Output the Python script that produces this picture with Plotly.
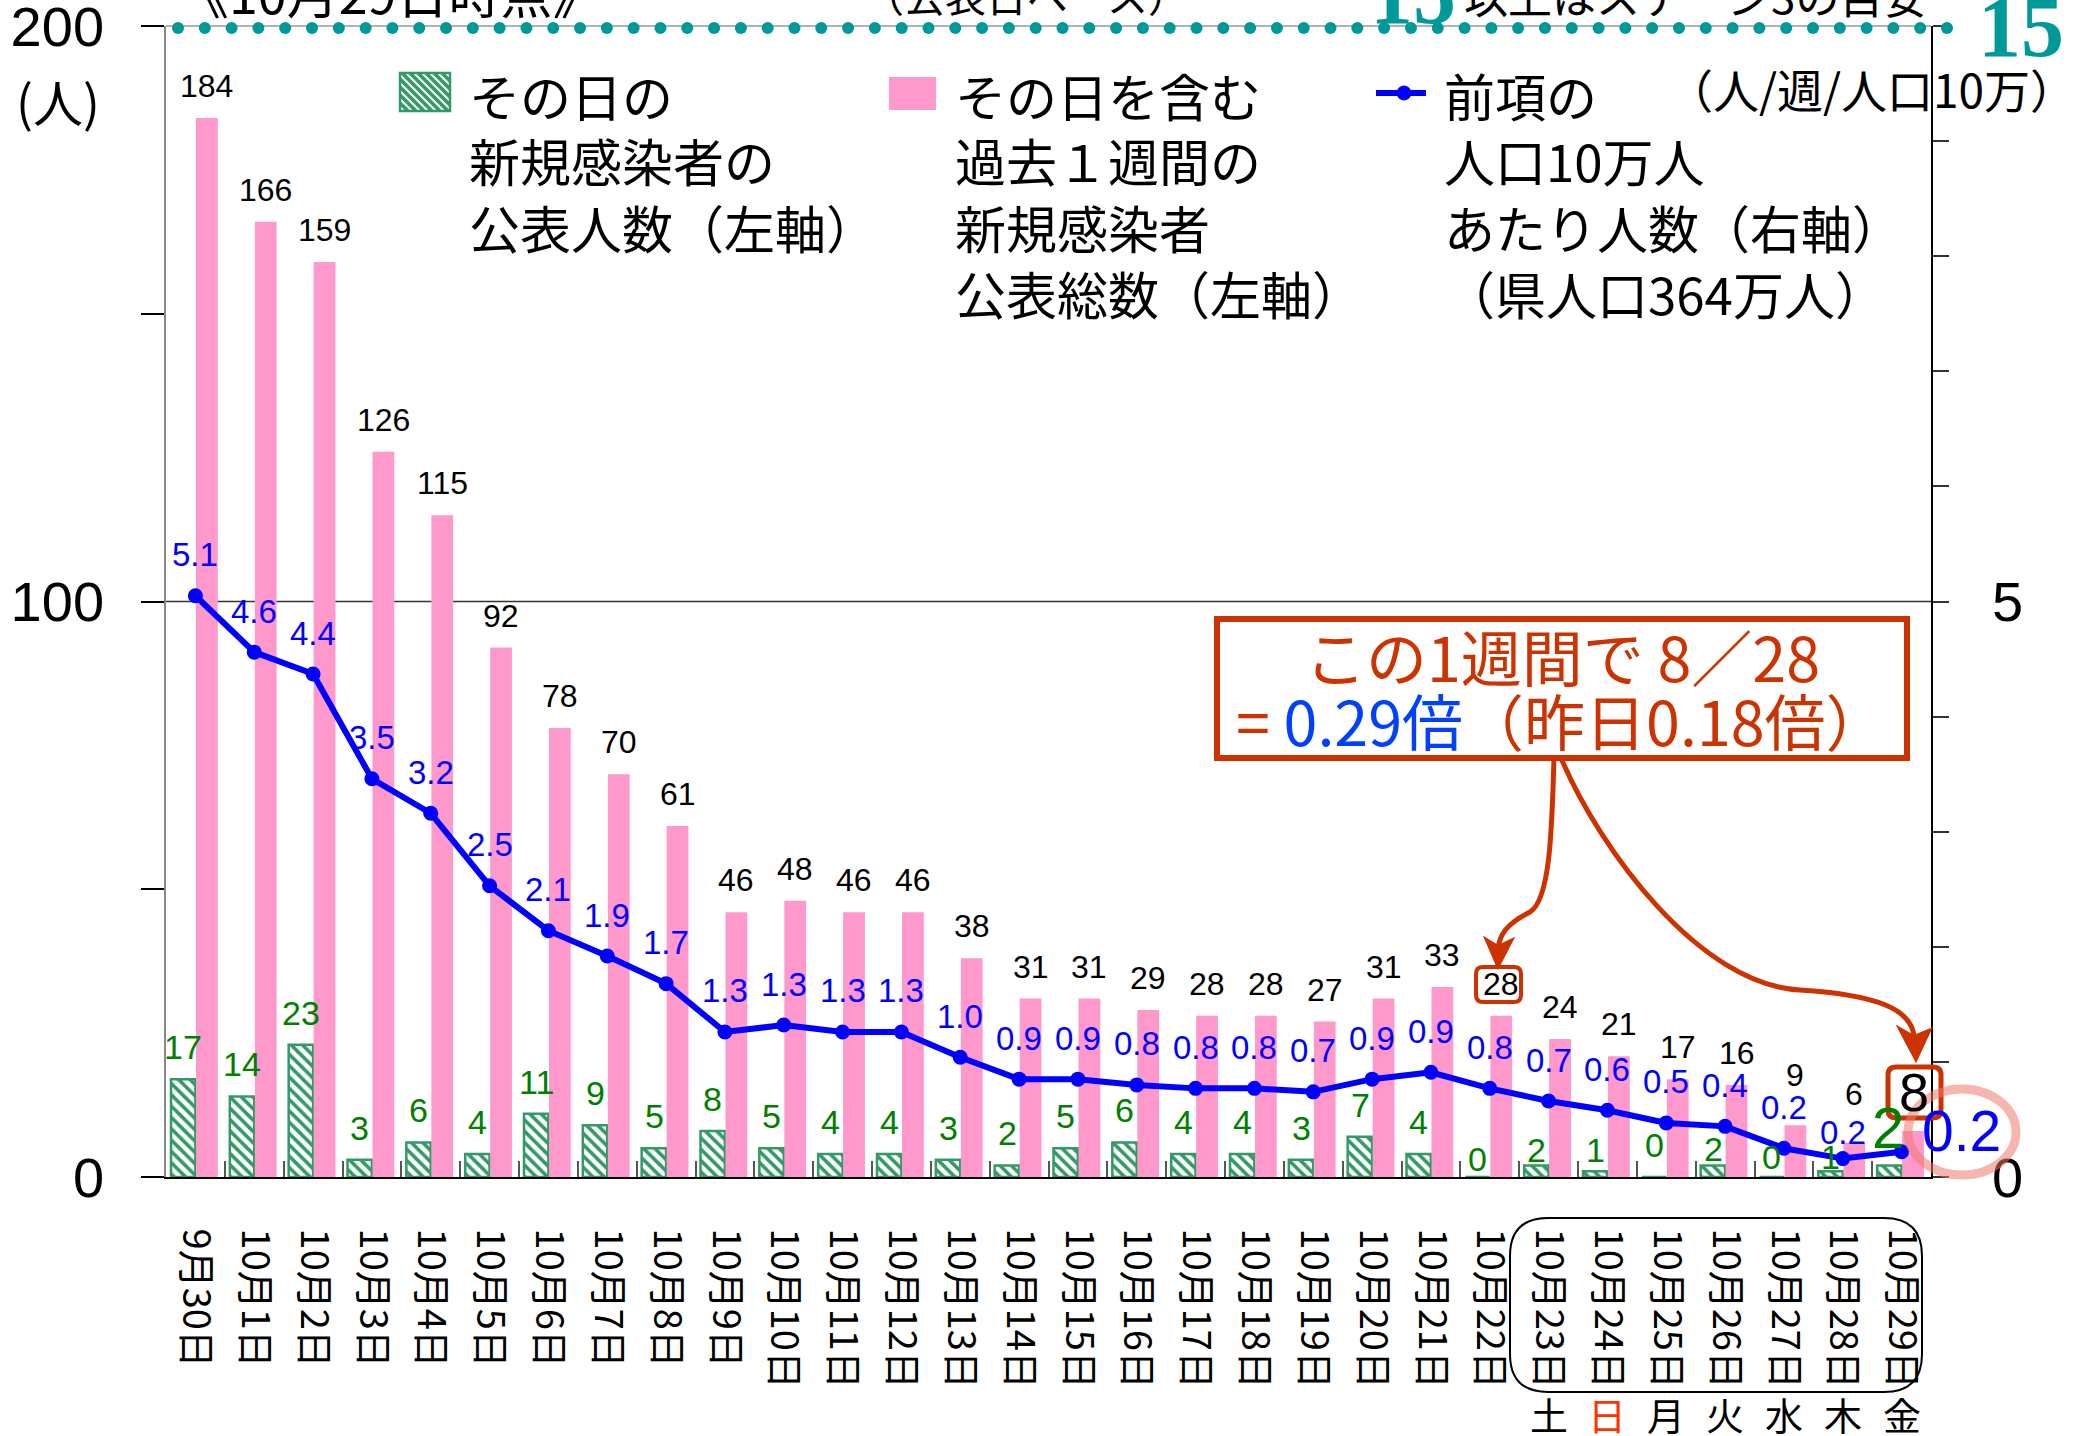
import plotly.graph_objects as go

# ---------------- data ----------------
dates = ["9月30日", "10月1日", "10月2日", "10月3日", "10月4日", "10月5日", "10月6日",
         "10月7日", "10月8日", "10月9日", "10月10日", "10月11日", "10月12日", "10月13日",
         "10月14日", "10月15日", "10月16日", "10月17日", "10月18日", "10月19日", "10月20日",
         "10月21日", "10月22日", "10月23日", "10月24日", "10月25日", "10月26日", "10月27日",
         "10月28日", "10月29日"]
daily = [17, 14, 23, 3, 6, 4, 11, 9, 5, 8, 5, 4, 4, 3, 2, 5, 6, 4, 4, 3, 7, 4, 0, 2, 1, 0, 2, 0, 1, 2]
weekly = [184, 166, 159, 126, 115, 92, 78, 70, 61, 46, 48, 46, 46, 38, 31, 31, 29, 28, 28, 27,
          31, 33, 28, 24, 21, 17, 16, 9, 6, 8]
per100k = [5.05, 4.56, 4.37, 3.46, 3.16, 2.53, 2.14, 1.92, 1.68, 1.26, 1.32, 1.26, 1.26, 1.04,
           0.85, 0.85, 0.80, 0.77, 0.77, 0.74, 0.85, 0.91, 0.77, 0.66, 0.58, 0.47, 0.44, 0.25,
           0.16, 0.22]
per100k_labels = ["5.1", "4.6", "4.4", "3.5", "3.2", "2.5", "2.1", "1.9", "1.7", "1.3", "1.3",
                  "1.3", "1.3", "1.0", "0.9", "0.9", "0.8", "0.8", "0.8", "0.7", "0.9", "0.9",
                  "0.8", "0.7", "0.6", "0.5", "0.4", "0.2", "0.2", "0.2"]
weekdays = ["土", "日", "月", "火", "水", "木", "金"]
left_ticks = [0, 50, 100, 150, 200]
left_ticktext = ["0", "", "100", "", "200"]
right_ticks = [0, 1, 2, 3, 4, 5, 6, 7, 8, 9, 10]
right_ticktext = ["0", "", "", "", "", "5", "", "", "", "", ""]

# ---------------- styles ----------------
PINK = "#FF99CC"
GREEN = "#339966"
GREEN_TXT = "#008000"
BLUE = "#0000FF"
RED = "#CC3300"
TEAL = "#009999"
JP = "Noto Sans CJK JP"
NUM = "Liberation Sans, Arial, Noto Sans CJK JP"
SERIF = "Liberation Serif, Times New Roman"

W, H = 2074, 1436
PL, PR, PT, PB = 166, 1931, 26, 1177   # plot area in pixels


def px(x):
    return (x - PL) / (PR - PL)


def py(y):
    return (PB - y) / (PB - PT)


def P(x, y):
    return f"{px(x):.5f},{py(y):.5f}"


def rrect(x0, y0, x1, y1, r):
    return (f"M {P(x0 + r, y0)} L {P(x1 - r, y0)} Q {P(x1, y0)} {P(x1, y0 + r)} "
            f"L {P(x1, y1 - r)} Q {P(x1, y1)} {P(x1 - r, y1)} L {P(x0 + r, y1)} "
            f"Q {P(x0, y1)} {P(x0, y1 - r)} L {P(x0, y0 + r)} Q {P(x0, y0)} {P(x0 + r, y0)} Z")


def note(x, y, text, size, color="black", family=JP, xanchor="center", **kw):
    d = dict(x=px(x), y=py(y), xref="paper", yref="paper", text=text, showarrow=False,
             xanchor=xanchor, yanchor="middle",
             font=dict(family=family, size=size, color=color))
    d.update(kw)
    return d


fig = go.Figure()
fig.add_bar(x=dates, y=daily, name="その日の新規感染者の公表人数（左軸）",
            width=0.415, offset=-0.415,
            marker=dict(color="white", line=dict(color=GREEN, width=2.5),
                        pattern=dict(shape="\\", fgcolor=GREEN, bgcolor="white",
                                     size=8, solidity=0.45, fillmode="replace")))
fig.add_bar(x=dates, y=weekly, name="その日を含む過去1週間の新規感染者公表総数（左軸）",
            width=0.37, offset=0.01, marker=dict(color=PINK, line=dict(width=0)))
fig.add_scatter(x=dates, y=per100k, yaxis="y2", mode="lines+markers",
                name="前項の人口10万人あたり人数（右軸）",
                line=dict(color=BLUE, width=6), marker=dict(color=BLUE, size=15))

ann = []
shapes = []

# ---- data labels ----
pink_shift = {27: 50, 28: 48}
green_shift = {22: 18, 23: 15, 24: 21, 25: 32, 26: 16, 27: 20, 28: 14}
blue_shift = {28: 26}
last = len(dates) - 1
for i, d in enumerate(dates):
    base = dict(x=d, xref="x", showarrow=False, xanchor="center", yanchor="middle")
    if i == last:
        ann.append(dict(base, y=weekly[i], yref="y", text=str(weekly[i]), xshift=12, yshift=39,
                        font=dict(family=NUM, size=54, color="black")))
        ann.append(dict(base, y=daily[i], yref="y", text=str(daily[i]), xshift=-14, yshift=38,
                        font=dict(family=NUM, size=58, color=GREEN_TXT)))
        ann.append(dict(base, y=per100k[i], yref="y2", text=per100k_labels[i], xshift=60,
                        yshift=21, font=dict(family=NUM, size=57, color=BLUE)))
        continue
    ann.append(dict(base, y=weekly[i], yref="y", text=str(weekly[i]), xshift=11.5,
                    yshift=pink_shift.get(i, 32),
                    font=dict(family=NUM, size=32, color="black")))
    ann.append(dict(base, y=daily[i], yref="y", text=str(daily[i]), xshift=-12,
                    yshift=green_shift.get(i, 32),
                    font=dict(family=NUM, size=34, color=GREEN_TXT)))
    ann.append(dict(base, y=per100k[i], yref="y2", text=per100k_labels[i],
                    yshift=blue_shift.get(i, 41),
                    font=dict(family=NUM, size=33, color=BLUE)))

# ---- weekday labels ----
for j, wd in enumerate(weekdays):
    ann.append(dict(x=dates[len(dates) - 7 + j], xref="x", y=py(1413), yref="paper",
                    text=wd, showarrow=False, xanchor="center", yanchor="middle",
                    font=dict(family=JP, size=38, color="#FF3300" if wd == "日" else "black")))

# ---- axis unit texts ----
ann.append(note(58, 100, "(人)", 50))
ann.append(note(1871, 88, "（人/週/人口10万）", 46))

# ---- header (cut off at top) ----
ann.append(note(175, -8, "《10月29日時点》", 52, xanchor="left"))
ann.append(note(1026, -6, "（公表日ベース）", 41))
ann.append(note(1413, -6, "<b>15</b>", 86, color=TEAL, family=SERIF))
ann.append(note(1462, -5, "以上はステージ3の目安", 44, xanchor="left"))
ann.append(note(1976, 27, "<b>15</b>", 86, color=TEAL, family=SERIF, xanchor="left"))

# ---- legend (manual) ----
leg_rows = [95, 160, 227, 293]
legend_items = [
    (467, ["その日の", "新規感染者の", "公表人数（左軸）"]),
    (953, ["その日を含む", "過去１週間の", "新規感染者", "公表総数（左軸）"]),
    (1442, ["前項の", "人口10万人", "あたり人数（右軸）", "（県人口364万人）"]),
]
for x0, lines in legend_items:
    for k, t in enumerate(lines):
        ann.append(note(x0, leg_rows[k], t, 51, xanchor="left"))

# hatched legend symbol
sx0, sy0, sx1, sy1 = 400, 73, 450, 111
shapes.append(dict(type="rect", xref="paper", yref="paper", x0=px(sx0), x1=px(sx1),
                   y0=py(sy1), y1=py(sy0), fillcolor="white", line=dict(color=GREEN, width=2.5)))
hp = ""
step = 8
c = sx0 - (sy1 - sy0)
while c < sx1:
    ya = max(sy0, sy0 + sx0 - c)
    yb = min(sy1, sy0 + sx1 - c)
    if yb > ya:
        hp += f"M {P(c + ya - sy0, ya)} L {P(c + yb - sy0, yb)} "
    c += step
shapes.append(dict(type="path", xref="paper", yref="paper", path=hp,
                   line=dict(color=GREEN, width=3.5)))
# pink legend symbol
shapes.append(dict(type="rect", xref="paper", yref="paper", x0=px(889), x1=px(936),
                   y0=py(110), y1=py(77), fillcolor=PINK, line=dict(width=0)))
# line legend symbol
shapes.append(dict(type="line", xref="paper", yref="paper", x0=px(1376), x1=px(1426),
                   y0=py(93), y1=py(93), line=dict(color=BLUE, width=6)))
shapes.append(dict(type="circle", xref="paper", yref="paper", x0=px(1397), x1=px(1411),
                   y0=py(100), y1=py(86), fillcolor=BLUE, line=dict(color=BLUE, width=1)))

# ---- gridline at 100 (behind bars) ----
shapes.append(dict(type="line", xref="paper", yref="y", x0=0, x1=1, y0=100, y1=100,
                   layer="below", line=dict(color="#333333", width=1.5)))
# top border
shapes.append(dict(type="line", xref="paper", yref="paper", x0=0, x1=1, y0=1, y1=1,
                   line=dict(color="#999999", width=1.5)))
# teal dotted line
n_dots = 67
for k in range(n_dots):
    cx = 178 + k * (1947 - 178) / (n_dots - 1)
    shapes.append(dict(type="circle", xref="paper", yref="paper",
                       x0=px(cx - 6), x1=px(cx + 6), y0=py(34), y1=py(22),
                       fillcolor=TEAL, line=dict(width=0)))

# ---- callout box ----
shapes.append(dict(type="rect", xref="paper", yref="paper", x0=px(1217), x1=px(1907),
                   y0=py(758), y1=py(619), fillcolor="white", line=dict(color=RED, width=6)))
ann.append(note(1562, 655, "この1週間で 8／28", 61, color=RED))
ann.append(note(1561, 720, "= <span style='color:#0040FF'>0.29倍</span>（昨日0.18倍）", 61,
                color=RED))

# arrows
a1 = (f"M {P(1554, 758)} C {P(1552, 830)} {P(1550, 900)} {P(1530, 912)} "
      f"C {P(1505, 925)} {P(1500, 935)} {P(1498, 948)}")
a2 = (f"M {P(1561, 758)} C {P(1600, 850)} {P(1700, 985)} {P(1800, 990)} "
      f"C {P(1880, 995)} {P(1910, 1010)} {P(1914, 1035)}")
for pth in (a1, a2):
    shapes.append(dict(type="path", xref="paper", yref="paper", path=pth,
                       line=dict(color=RED, width=5)))
h1 = f"M {P(1498, 968)} L {P(1485, 938)} L {P(1498, 946)} L {P(1513, 939)} Z"
h2 = f"M {P(1916, 1061)} L {P(1898, 1027)} L {P(1914, 1036)} L {P(1931, 1029)} Z"
for pth in (h1, h2):
    shapes.append(dict(type="path", xref="paper", yref="paper", path=pth,
                       fillcolor=RED, line=dict(color=RED, width=2)))

# boxes around 28 and 8
shapes.append(dict(type="path", xref="paper", yref="paper", path=rrect(1476, 967, 1521, 1002, 7),
                   line=dict(color=RED, width=4)))
shapes.append(dict(type="path", xref="paper", yref="paper", path=rrect(1888, 1067, 1941, 1118, 8),
                   line=dict(color=RED, width=5)))
# ring around last value
shapes.append(dict(type="circle", xref="paper", yref="paper", x0=px(1908), x1=px(2016),
                   y0=py(1175), y1=py(1089), line=dict(color="rgba(238,120,105,0.55)", width=9)))
# bracket around last week labels
shapes.append(dict(type="path", xref="paper", yref="paper", path=rrect(1510, 1218, 1922, 1392, 38),
                   line=dict(color="black", width=2)))

fig.update_layout(
    template="none",
    width=W, height=H,
    margin=dict(l=PL, r=W - PR, t=PT, b=H - PB, autoexpand=False),
    paper_bgcolor="white", plot_bgcolor="white",
    barmode="overlay",
    showlegend=False,
    font=dict(family=NUM, color="black"),
    xaxis=dict(type="category", tickangle=90, ticks="inside", tickson="boundaries",
               ticklen=16, tickcolor="#555555", tickwidth=1.5,
               showline=True, linecolor="black", linewidth=2, showgrid=False,
               tickfont=dict(family=JP, size=38, color="black"),
               ticklabelstandoff=42, automargin=False, range=[-0.5, 29.5],
               ticklabeloverflow="allow"),
    yaxis=dict(range=[0, 200], tickvals=left_ticks, ticktext=left_ticktext,
               ticks="outside", ticklen=23, tickcolor="black", tickwidth=1.5,
               showline=True, linecolor="#888888", linewidth=1.5, showgrid=False,
               zeroline=False, tickfont=dict(family=NUM, size=56, color="black"),
               ticklabelstandoff=26, automargin=False, ticklabeloverflow="allow"),
    yaxis2=dict(range=[0, 10], overlaying="y", side="right", tickvals=right_ticks,
                ticktext=right_ticktext, ticks="outside", ticklen=16, tickcolor="#333333",
                tickwidth=1.5, showline=True, linecolor="black", linewidth=1.5,
                showgrid=False, zeroline=False,
                tickfont=dict(family=NUM, size=56, color="black"),
                ticklabelstandoff=32, automargin=False, ticklabeloverflow="allow"),
    annotations=ann,
    shapes=shapes,
)

fig.write_html("out.html", config={"displayModeBar": False},
               post_script="document.body.style.margin='0';document.body.style.padding='0';")
